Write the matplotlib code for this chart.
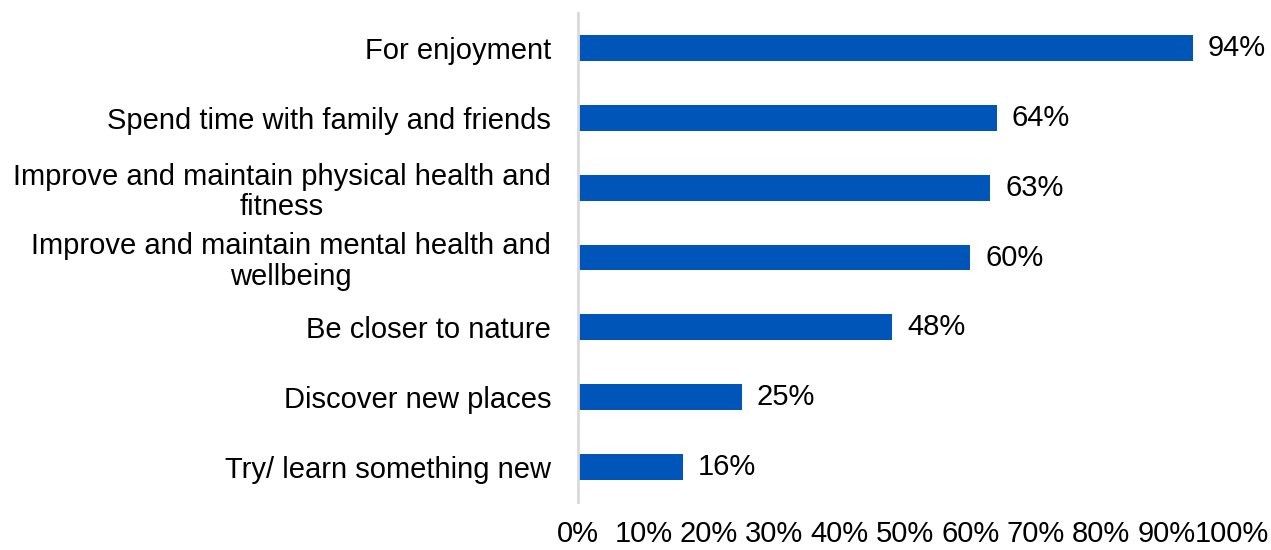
import matplotlib.pyplot as plt
import matplotlib.ticker as mticker
import matplotlib.transforms as mtransforms

# reasons for visiting, top to bottom
reasons = [
    "For enjoyment",
    "Spend time with family and friends",
    "Improve and maintain physical health and\nfitness",
    "Improve and maintain mental health and\nwellbeing",
    "Be closer to nature",
    "Discover new places",
    "Try/ learn something new",
]
shares = [94, 64, 63, 60, 48, 25, 16]

plt.rcParams['font.family'] = ['Liberation Sans', 'DejaVu Sans']
plt.rcParams['font.size'] = 21

fig = plt.figure(figsize=(12.71, 5.5), dpi=100)
ax = fig.add_axes([578 / 1271, 48 / 550, 654 / 1271, 489 / 550])

pos = list(range(len(reasons)))[::-1]
bars = ax.barh(pos, shares, height=0.37, color="#0055B8")
ax.bar_label(bars, labels=[f"{v}%" for v in shares], padding=11)

ax.set_xlim(0, 100)
ax.set_ylim(-0.5, len(reasons) - 0.5)
ax.set_yticks(pos)
ax.set_yticklabels(reasons, ha='center', linespacing=1.1)
ax.xaxis.set_major_locator(mticker.MultipleLocator(10))
ax.xaxis.set_major_formatter(mticker.FuncFormatter(lambda v, p: f"{v:.0f}%"))
ax.tick_params(axis='x', length=0, pad=13)
ax.tick_params(axis='y', length=0, pad=0)

# centre multi-line labels over their own block, right edge just left of the axis
fig.canvas.draw()
renderer = fig.canvas.get_renderer()
for lbl in ax.get_yticklabels():
    w = lbl.get_window_extent(renderer).width
    lbl.set_x(0)
    shift = mtransforms.ScaledTranslation(-(w / 2 + 27) / 100, 0, fig.dpi_scale_trans)
    lbl.set_transform(ax.get_yaxis_transform() + shift)

for side in ['top', 'right', 'bottom']:
    ax.spines[side].set_visible(False)
ax.spines['left'].set_color('#d9d9d9')
ax.spines['left'].set_linewidth(2)

fig.savefig("out.png", dpi=100)
